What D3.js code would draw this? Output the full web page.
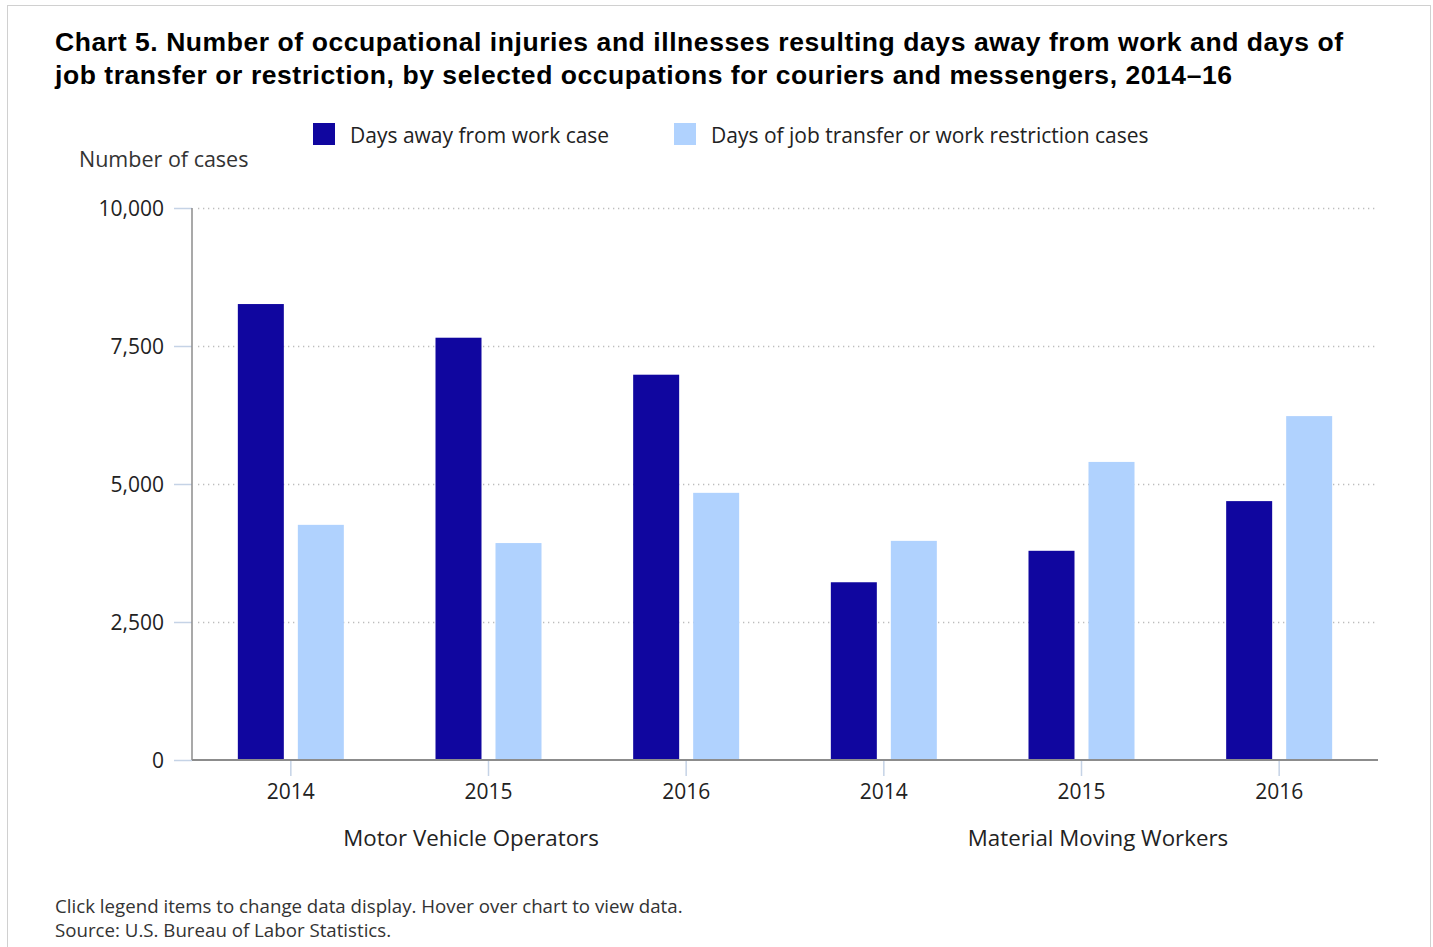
<!DOCTYPE html>
<html>
<head>
<meta charset="utf-8">
<script src="https://cdn.jsdelivr.net/npm/d3@7"></script>
<style>
  html, body { margin: 0; padding: 0; background: #fff; }
  svg { display: block; }
</style>
</head>
<body>
<svg id="chart" width="1433" height="947"></svg>
<script>
// ---- Data ----
const groups = ["Motor Vehicle Operators", "Material Moving Workers"];
const years = ["2014", "2015", "2016"];
const seriesNames = ["Days away from work case", "Days of job transfer or work restriction cases"];
const seriesColors = ["#10069f", "#b0d2fe"];
// values per (group, year) in order: MVO 2014..2016, MMW 2014..2016
const daysAway = [8260, 7650, 6980, 3220, 3790, 4690];
const jobTransfer = [4260, 3930, 4840, 3970, 5400, 6230];
const yTicks = [0, 2500, 5000, 7500, 10000];

// ---- Layout ----
const svg = d3.select("#chart");
const plot = { left: 192, right: 1378, top: 208, bottom: 760 };
const font = "'Open Sans', 'Noto Sans', sans-serif";

svg.append("rect").attr("x", 7.5).attr("y", 5.5).attr("width", 1423).attr("height", 950)
  .attr("fill", "#fff").attr("stroke", "#d0d0d0").attr("stroke-width", 1);

// Title
const title = svg.append("text").attr("font-family", "'Liberation Sans', Arial, sans-serif")
  .attr("font-weight", "bold").attr("font-size", 26.5).attr("fill", "#000");
title.append("tspan").attr("x", 55).attr("y", 51).attr("textLength", 1288).attr("lengthAdjust", "spacing")
  .text("Chart 5. Number of occupational injuries and illnesses resulting days away from work and days of");
title.append("tspan").attr("x", 55).attr("y", 84).attr("textLength", 1177).attr("lengthAdjust", "spacing")
  .text("job transfer or restriction, by selected occupations for couriers and messengers, 2014\u201316");

// Legend
const legendX = [313, 674];
seriesNames.forEach((name, i) => {
  svg.append("rect").attr("x", legendX[i]).attr("y", 123).attr("width", 22).attr("height", 22)
    .attr("fill", seriesColors[i]);
  svg.append("text").attr("x", legendX[i] + 37).attr("y", 143)
    .attr("font-family", font).attr("font-size", 21).attr("fill", "#222")
    .text(name);
});

// Y axis title
svg.append("text").attr("x", 79).attr("y", 167).attr("font-family", font)
  .attr("font-size", 21.5).attr("fill", "#333").text("Number of cases");

// Scales
const cats = [];
groups.forEach(g => years.forEach(y => cats.push(g + "|" + y)));
const x0 = d3.scaleBand().domain(cats).range([plot.left, plot.right]).paddingInner(0).paddingOuter(0);
const bw = x0.bandwidth();
const x1 = d3.scaleBand().domain([0, 1]).range([bw / 2 - 53, bw / 2 + 53]).paddingInner(14 / 60).paddingOuter(0);
const y = d3.scaleLinear().domain([0, 10000]).range([plot.bottom, plot.top]);

// Gridlines
svg.append("g").selectAll("line").data(yTicks.filter(t => t > 0)).join("line")
  .attr("x1", plot.left + 6).attr("x2", plot.right - 3)
  .attr("y1", d => Math.round(y(d)) + 0.5).attr("y2", d => Math.round(y(d)) + 0.5)
  .attr("stroke", "#bdbdbd").attr("stroke-width", 1.3).attr("stroke-dasharray", "1.3,3.7");

// Bars
const rows = cats.map((c, i) => ({ cat: c, vals: [daysAway[i], jobTransfer[i]] }));
const gBars = svg.append("g");
rows.forEach(r => {
  r.vals.forEach((v, s) => {
    gBars.append("rect")
      .attr("x", x0(r.cat) + x1(s))
      .attr("width", x1.bandwidth())
      .attr("y", y(v))
      .attr("height", y(0) - y(v))
      .attr("fill", seriesColors[s]);
  });
});

// Y axis
const yAxis = d3.axisLeft(y).tickValues(yTicks).tickSize(18).tickPadding(10)
  .tickFormat(d3.format(","));
const gy = svg.append("g").attr("transform", `translate(${plot.left},0)`).call(yAxis);
gy.select(".domain").remove();
gy.selectAll(".tick line").attr("stroke", "#c5d3e6").attr("stroke-width", 1.5);
gy.selectAll(".tick text").attr("font-family", font).attr("font-size", 21).attr("fill", "#222")
  .attr("dy", "0.34em");
svg.append("line").attr("x1", plot.left).attr("x2", plot.left)
  .attr("y1", plot.top).attr("y2", plot.bottom)
  .attr("stroke", "#8c8c8c").attr("stroke-width", 1.5);

// X axis
const xAxis = d3.axisBottom(x0).tickSize(16).tickPadding(8).tickFormat(d => d.split("|")[1]);
const gx = svg.append("g").attr("transform", `translate(0,${plot.bottom})`).call(xAxis);
gx.select(".domain").remove();
gx.selectAll(".tick line").attr("stroke", "#c5d3e6").attr("stroke-width", 1.5);
gx.selectAll(".tick text").attr("font-family", font).attr("font-size", 21).attr("fill", "#222");
svg.append("line").attr("x1", plot.left).attr("x2", plot.right)
  .attr("y1", plot.bottom).attr("y2", plot.bottom)
  .attr("stroke", "#8c8c8c").attr("stroke-width", 2);

// Group labels
const groupLabelX = [471, 1098];
groups.forEach((g, i) => {
  svg.append("text").attr("x", groupLabelX[i]).attr("y", 846).attr("text-anchor", "middle")
    .attr("font-family", font).attr("font-size", 22.3).attr("fill", "#222").text(g);
});

// Footer
svg.append("text").attr("x", 55).attr("y", 913).attr("font-family", font).attr("font-size", 18.7)
  .attr("fill", "#333").text("Click legend items to change data display. Hover over chart to view data.");
svg.append("text").attr("x", 55).attr("y", 937).attr("font-family", font).attr("font-size", 18.7)
  .attr("fill", "#333").text("Source: U.S. Bureau of Labor Statistics.");
</script>
</body>
</html>
